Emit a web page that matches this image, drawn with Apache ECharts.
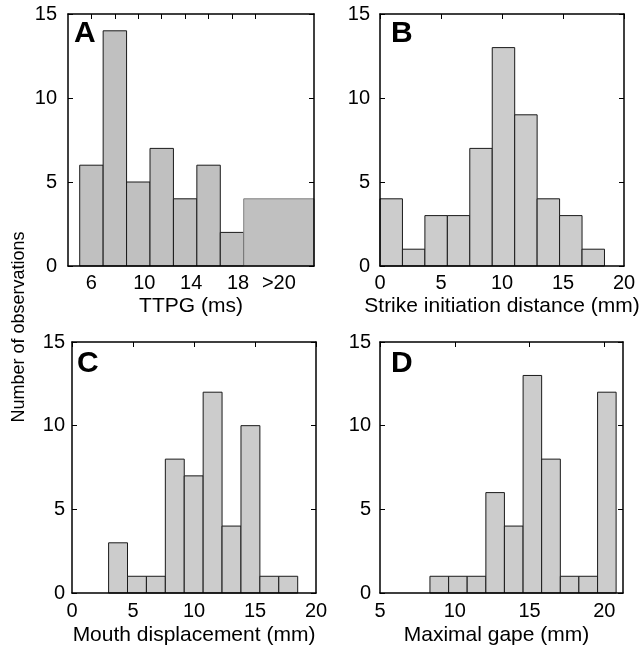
<!DOCTYPE html>
<html>
<head>
<meta charset="utf-8">
<script src="https://cdn.jsdelivr.net/npm/echarts@6/dist/echarts.min.js"></script>
<style>
html,body{margin:0;padding:0;background:#fff;}
#chart{width:639px;height:649px;}
</style>
</head>
<body>
<div id="chart"></div>
<script>
// ---- Data ----
const yTicks = [0, 5, 10, 15];

// Panel A: TTPG (ms)
const aLeftEdges  = [5, 7, 9, 11, 13, 15, 17, 19];
const aRightEdges = [7, 9, 11, 13, 15, 17, 19, 25];
const aCounts     = [6, 14, 5, 7, 4, 6, 2, 4];
const aTickValues = [6, 8, 10, 12, 14, 16, 18, 20];
const aLabelValues = [6, 10, 14, 18, 22];
const aLabelTexts  = ['6', '10', '14', '18', '>20'];

// Panel B: Strike initiation distance (mm)
const bEdges  = [0, 1.84, 3.68, 5.52, 7.36, 9.2, 11.04, 12.88, 14.72, 16.56, 18.4];
const bCounts = [4, 1, 3, 3, 7, 13, 9, 4, 3, 1];

// Panel C: Mouth displacement (mm)
const cEdges  = [3.0, 4.55, 6.1, 7.65, 9.2, 10.75, 12.3, 13.85, 15.4, 16.95, 18.5];
const cCounts = [3, 1, 1, 8, 7, 12, 4, 10, 1, 1];

// Panel D: Maximal gape (mm)
const dEdges  = [8.34, 9.59, 10.83, 12.08, 13.32, 14.57, 15.81, 17.06, 18.3, 19.55, 20.79];
const dCounts = [1, 1, 1, 6, 4, 13, 8, 1, 1, 12];
const dLabelValues = [5, 10, 15, 20];

const xTitles = ['TTPG (ms)', 'Strike initiation distance (mm)', 'Mouth displacement (mm)', 'Maximal gape (mm)'];
const panelLetters = ['A', 'B', 'C', 'D'];
const yTitle = 'Number of observations';

// ---- Build ----
const FONT = "'Liberation Sans', Arial, Helvetica, sans-serif";
const chart = echarts.init(document.getElementById('chart'), null, {renderer: 'canvas'});

function edgesToData(edges, counts) {
  return counts.map((c, i) => [edges[i], edges[i + 1], c]);
}
const dataA = aCounts.map((c, i) => [aLeftEdges[i], aRightEdges[i], c]);
const dataB = edgesToData(bEdges, bCounts);
const dataC = edgesToData(cEdges, cCounts);
const dataD = edgesToData(dEdges, dCounts);

const grids = [
  {left: 68, top: 14, width: 246, height: 252},
  {left: 380, top: 14, width: 244, height: 252},
  {left: 72, top: 342, width: 244, height: 251},
  {left: 380, top: 342, width: 243, height: 251}
].map(g => Object.assign({outerBoundsMode: 'none', containLabel: false, show: false}, g));

const axisLineStyle = {show: true, onZero: false, lineStyle: {color: '#000', width: 1.5}};
const tickStyle = {inside: true, length: 5, lineStyle: {color: '#000', width: 1}};
const labelStyle = {color: '#000', fontSize: 20, fontFamily: FONT};

const xRanges = [[4, 25, 2], [0, 20, 5], [0, 20, 5], [5, 21.25, 5]];
const nameGaps = [30, 30, 32, 32];
const namePads = [[0, 0, 0, 0], [0, 0, 0, 0], [0, 0, 0, 0], [0, 10, 0, 0]];
const xLabelMargins = [7, 7, 8, 8];
const yLabelMargins = [11, 10, 7, 9];
const xAxes = [];
const yAxes = [];
for (let i = 0; i < 4; i++) {
  const [mn, mx, iv] = xRanges[i];
  const bottom = {
    type: 'value', gridIndex: i, position: 'bottom', min: mn, max: mx, interval: iv, z: 10,
    axisLine: axisLineStyle, splitLine: {show: false},
    axisTick: {show: false},
    axisLabel: Object.assign({margin: xLabelMargins[i]}, labelStyle),
    name: xTitles[i], nameLocation: 'middle', nameGap: nameGaps[i],
    nameTextStyle: {color: '#000', fontSize: 21, fontFamily: FONT, padding: namePads[i]}
  };
  const top = {
    type: 'value', gridIndex: i, position: 'top', min: mn, max: mx, interval: iv, z: 10,
    axisLine: axisLineStyle, splitLine: {show: false},
    axisTick: Object.assign({show: true}, tickStyle), axisLabel: {show: false}
  };
  if (i === 0) {
    bottom.axisLabel.customValues = aLabelValues;
    bottom.axisLabel.formatter = function (v) {
      const t = aLabelTexts[aLabelValues.indexOf(v)] || '';
      return t.length === 2 ? '{s|' + t + '}' : t;
    };
    bottom.axisLabel.rich = {s: {fontSize: 20, fontFamily: FONT, color: '#000', padding: [0, 0, 0, 12]}};
    top.axisTick.customValues = aTickValues;
  } else if (i === 3) {
    bottom.axisLabel.customValues = dLabelValues;
    top.axisTick.customValues = dLabelValues;
  }
  xAxes.push(bottom, top);
  yAxes.push({
    type: 'value', gridIndex: i, position: 'left', min: 0, max: 15, interval: 5, z: 10,
    axisLine: axisLineStyle, splitLine: {show: false},
    axisTick: Object.assign({show: true}, tickStyle),
    axisLabel: Object.assign({margin: yLabelMargins[i], customValues: yTicks}, labelStyle)
  }, {
    type: 'value', gridIndex: i, position: 'right', min: 0, max: 15, interval: 5, z: 10,
    axisLine: axisLineStyle, splitLine: {show: false},
    axisTick: Object.assign({show: true}, tickStyle), axisLabel: {show: false}
  });
}

function makeSeries(i, data, fill, lastStroke) {
  return {
    type: 'custom', xAxisIndex: i * 2, yAxisIndex: i * 2, z: 2,
    encode: {x: [0, 1], y: 2},
    data: data,
    renderItem: function (params, api) {
      const p0 = api.coord([api.value(0), api.value(2)]);
      const p1 = api.coord([api.value(1), 0]);
      const isLast = lastStroke && params.dataIndex === data.length - 1;
      return {
        type: 'rect',
        shape: {x: p0[0], y: p0[1], width: p1[0] - p0[0], height: p1[1] - p0[1]},
        style: {fill: fill, stroke: isLast ? lastStroke : '#1a1a1a', lineWidth: 1}
      };
    }
  };
}

const letterPos = [[74, 19], [391, 19], [77, 349], [391, 349]];
const graphics = panelLetters.map((t, i) => ({
  type: 'text', left: letterPos[i][0], top: letterPos[i][1], z: 20,
  style: {text: t, font: "bold 30px " + FONT, fill: '#000'}
}));
graphics.push({
  type: 'text', x: 19, y: 327, rotation: Math.PI / 2, z: 20,
  style: {text: yTitle, font: "18px " + FONT, fill: '#000', align: 'center', verticalAlign: 'middle'}
});

chart.setOption({
  animation: false,
  backgroundColor: '#fff',
  grid: grids,
  xAxis: xAxes,
  yAxis: yAxes,
  series: [
    makeSeries(0, dataA, '#c0c0c0', '#808080'),
    makeSeries(1, dataB, '#cccccc', null),
    makeSeries(2, dataC, '#cccccc', null),
    makeSeries(3, dataD, '#cccccc', null)
  ],
  graphic: graphics
});
</script>
</body>
</html>
